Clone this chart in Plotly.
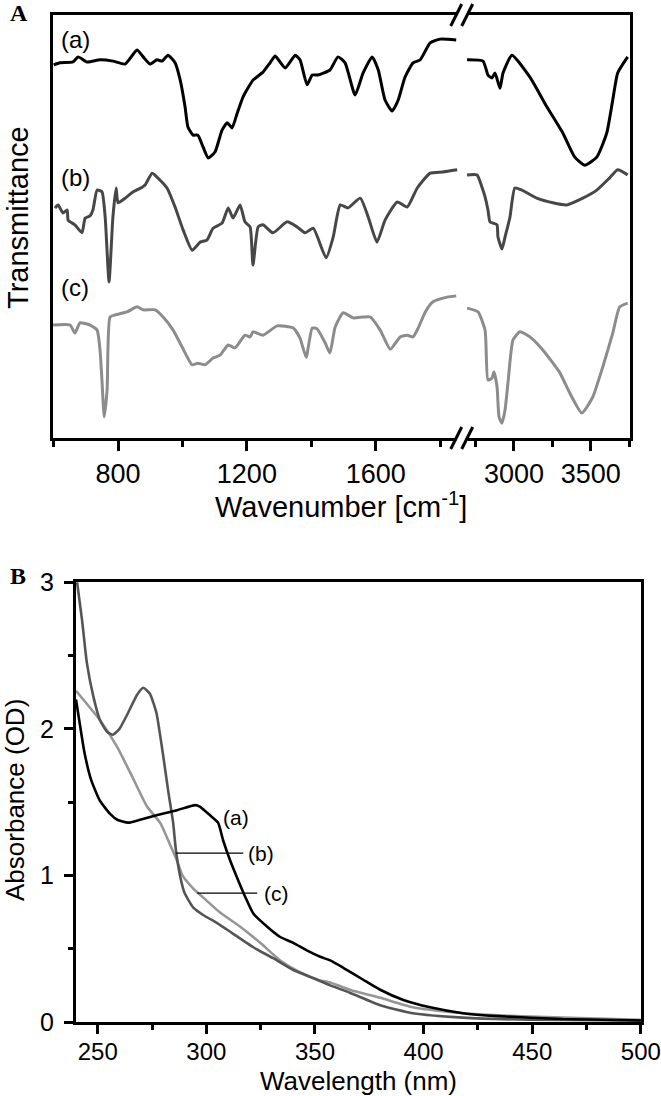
import plotly.graph_objects as go

# ---------------- Panel A : FTIR (wavenumber, transmittance a.u.) ----------------
ir_a_left_wn = [600, 620, 660, 676, 704, 744, 784, 822, 859, 878, 899, 921, 937, 955, 977, 993, 1008, 1017,
                1033, 1048, 1064, 1080, 1101, 1123, 1139, 1154, 1170, 1188, 1219, 1250, 1272, 1288, 1319,
                1350, 1365, 1387, 1403, 1421, 1458, 1483, 1505, 1536, 1561, 1589, 1608, 1629, 1651, 1670,
                1691, 1716, 1738, 1769, 1800, 1850]
ir_a_left_t = [88.2, 88.7, 88.9, 90.1, 88.9, 89.4, 89.1, 88.4, 91.7, 90.1, 88.4, 89.4, 89.1, 90.5, 88.7, 84.6,
               78.3, 73.5, 71.6, 71.6, 68.8, 66.2, 67.6, 72.8, 74.5, 73.3, 76.8, 80.6, 84.6, 86.5, 88.7,
               90.3, 87.5, 90.5, 89.4, 83.5, 85.8, 85.8, 87.0, 90.1, 88.7, 81.1, 86.3, 90.1, 87.0, 79.9,
               77.3, 79.9, 85.3, 88.7, 89.4, 93.4, 94.3, 94.1]
ir_a_right_wn = [2695, 2799, 2831, 2857, 2877, 2909, 2929, 2987, 3104, 3214, 3318, 3396, 3461, 3539, 3604,
                 3643, 3675, 3740]
ir_a_right_t = [89.4, 89.1, 85.8, 85.1, 86.3, 82.7, 86.3, 90.5, 85.3, 78.3, 72.1, 66.4, 64.5, 66.4, 72.1,
                79.9, 86.3, 90.1]

ir_b_left_wn = [604, 614, 629, 642, 645, 666, 688, 698, 713, 722, 735, 750, 760, 772, 784, 794, 800, 822,
                847, 875, 884, 906, 930, 952, 977, 1002, 1030, 1055, 1076, 1095, 1123, 1142, 1157, 1179,
                1194, 1210, 1219, 1235, 1250, 1281, 1325, 1356, 1381, 1406, 1446, 1468, 1490, 1514, 1552,
                1577, 1604, 1629, 1667, 1698, 1729, 1769, 1809, 1853]
ir_b_left_t = [54.4, 55.1, 53.2, 53.9, 51.5, 50.4, 48.5, 52.0, 52.5, 53.9, 58.6, 58.2, 52.2, 36.9, 52.2,
               59.1, 55.6, 56.7, 58.2, 59.3, 59.8, 62.6, 61.0, 59.1, 54.6, 49.2, 44.4, 46.3, 46.8, 49.6,
               50.8, 54.4, 52.0, 55.1, 51.1, 49.9, 40.9, 49.9, 50.4, 48.5, 51.1, 49.9, 48.5, 49.6, 42.6,
               47.5, 55.1, 54.4, 56.7, 52.2, 46.3, 51.5, 55.8, 54.6, 59.1, 62.6, 62.9, 63.4]
ir_b_right_wn = [2695, 2760, 2792, 2812, 2831, 2844, 2864, 2890, 2896, 2922, 2942, 2974, 3006, 3052, 3149,
                 3253, 3344, 3448, 3539, 3623, 3675, 3740]
ir_b_right_t = [62.2, 62.2, 59.3, 57.0, 53.9, 51.1, 50.8, 50.4, 47.5, 44.7, 47.5, 52.2, 59.1, 58.6, 56.7,
                55.6, 55.1, 56.7, 58.6, 61.5, 63.4, 62.2]

ir_c_left_wn = [598, 651, 666, 682, 713, 735, 744, 750, 757, 766, 775, 791, 828, 859, 878, 915, 940, 971,
                999, 1030, 1048, 1070, 1095, 1117, 1142, 1163, 1194, 1210, 1219, 1250, 1294, 1344, 1365,
                1384, 1403, 1418, 1443, 1458, 1474, 1499, 1530, 1561, 1583, 1614, 1645, 1676, 1698, 1716,
                1732, 1754, 1778, 1822, 1850]
ir_c_left_t = [26.7, 26.7, 24.8, 27.2, 26.7, 25.5, 20.8, 13.7, 5.0, 11.3, 28.6, 29.1, 29.8, 31.0, 30.3,
               30.3, 28.6, 25.5, 21.5, 17.3, 17.7, 17.3, 18.9, 19.6, 22.0, 21.3, 24.3, 23.9, 25.1, 24.3,
               26.5, 26.0, 23.6, 19.1, 26.0, 25.8, 22.5, 20.1, 26.2, 29.6, 28.4, 28.6, 28.6, 25.5, 21.0,
               23.9, 24.3, 23.9, 26.0, 29.8, 32.2, 33.3, 33.6]
ir_c_right_wn = [2695, 2766, 2812, 2831, 2857, 2870, 2890, 2903, 2922, 2942, 2961, 2994, 3039, 3104, 3188,
                 3299, 3364, 3442, 3513, 3578, 3643, 3688, 3740]
ir_c_right_t = [30.7, 29.8, 25.5, 13.7, 14.2, 15.6, 12.1, 5.0, 3.5, 6.6, 13.0, 23.2, 25.1, 23.9, 20.8,
                15.4, 10.6, 5.9, 9.7, 16.8, 24.8, 31.0, 31.9]

ir_left_ticks = [800, 1200, 1600]
ir_left_minor = [600, 1000, 1400, 1800]
ir_right_ticks = [3000, 3500]
ir_right_minor = [2750, 3250, 3750]

# ---------------- Panel B : UV-vis (wavelength nm, absorbance OD) ----------------
uv_a_wl = [240, 242, 244, 247, 251, 255.7, 259, 264, 269.5, 277, 286.5, 294.8, 297, 301.7, 305.4, 307.7,
           311, 314, 318, 321.6, 328, 334, 340, 346, 352.4, 357, 363, 372, 380, 390.7, 403, 418, 434,
           464, 500]
uv_a_abs = [2.20, 2.01, 1.83, 1.65, 1.51, 1.42, 1.38, 1.36, 1.38, 1.41, 1.445, 1.48, 1.47, 1.41, 1.36,
            1.24, 1.10, 0.99, 0.85, 0.74, 0.65, 0.58, 0.54, 0.49, 0.445, 0.42, 0.37, 0.29, 0.22, 0.15,
            0.10, 0.06, 0.04, 0.02, 0.01]
uv_b_wl = [240.5, 242.8, 245, 248, 251, 254.3, 257, 260, 264, 268, 271, 274, 277, 280, 282.4, 284.7,
           286, 288, 290, 294, 298.5, 305, 312, 321.6, 330.8, 340, 349, 357, 366, 380, 395, 418, 449, 500]
uv_b_abs = [3.0, 2.74, 2.45, 2.22, 2.06, 1.98, 1.96, 2.00, 2.11, 2.23, 2.28, 2.24, 2.11, 1.83, 1.58,
            1.36, 1.17, 0.99, 0.88, 0.78, 0.73, 0.675, 0.605, 0.51, 0.435, 0.355, 0.30, 0.25, 0.20, 0.115,
            0.06, 0.03, 0.015, 0.01]
uv_c_wl = [240, 251, 259, 266, 272.7, 278.7, 283, 286.5, 289, 294, 300, 306, 315.6, 324.8, 334, 343, 352,
           357, 366, 380, 395, 411, 434, 464, 500]
uv_c_abs = [2.26, 2.06, 1.875, 1.67, 1.47, 1.36, 1.22, 1.10, 1.00, 0.91, 0.83, 0.75, 0.65, 0.54, 0.42,
            0.34, 0.285, 0.27, 0.22, 0.165, 0.10, 0.07, 0.045, 0.03, 0.015]

uv_x_ticks = [250, 300, 350, 400, 450, 500]
uv_x_minor = [275, 325, 375, 425, 475]
uv_y_ticks = [0, 1, 2, 3]
uv_y_minor = [0.5, 1.5, 2.5]

# label leader lines (panel B), in data units
lead_b = dict(x0=286, x1=317, y=1.152)
lead_c = dict(x0=295.8, x1=323.4, y=0.879)

# ---------------- figure ----------------
W, H = 661, 1096
FONT = "Liberation Sans, Arial, Helvetica, sans-serif"
SERIF = "Liberation Serif, Times New Roman, serif"


def px(x):
    return x / W


def py(y):
    return 1 - y / H


fig = go.Figure()

col_a, col_b, col_c = "#000000", "#474747", "#8c8c8c"
lw = 3


def add(x, y, color, xa, ya, width):
    fig.add_trace(go.Scatter(x=x, y=y, mode="lines", xaxis=xa, yaxis=ya,
                             line=dict(color=color, width=width, shape="spline", smoothing=0.5),
                             showlegend=False, hoverinfo="skip"))


add(ir_a_left_wn, ir_a_left_t, col_a, "x", "y", lw)
add(ir_b_left_wn, ir_b_left_t, col_b, "x", "y", lw)
add(ir_c_left_wn, ir_c_left_t, col_c, "x", "y", lw)
add(ir_a_right_wn, ir_a_right_t, col_a, "x2", "y2", lw)
add(ir_b_right_wn, ir_b_right_t, col_b, "x2", "y2", lw)
add(ir_c_right_wn, ir_c_right_t, col_c, "x2", "y2", lw)

add(uv_c_wl, uv_c_abs, "#969696", "x3", "y3", 2.6)
add(uv_b_wl, uv_b_abs, "#555555", "x3", "y3", 2.6)
add(uv_a_wl, uv_a_abs, "#000000", "x3", "y3", 2.6)


def axis(size, **kw):
    d = dict(showgrid=False, zeroline=False, showline=True, linecolor="black", linewidth=3,
             tickcolor="black", automargin=False, ticklabeloverflow="allow",
             tickfont=dict(family=FONT, size=size, color="black"))
    d.update(kw)
    return d


def minor(vals, ln):
    return dict(tickvals=vals, ticks="outside", ticklen=ln, tickwidth=2.5, tickcolor="black")


x_break = 462
fig.update_layout(
    template="none",
    width=W, height=H, margin=dict(l=0, r=0, t=0, b=0, pad=0), autosize=False,
    paper_bgcolor="white", plot_bgcolor="white", showlegend=False,
    xaxis=axis(27, domain=[px(53), px(x_break)], anchor="y", range=[598, 1868],
               mirror=True, ticks="outside", ticklen=10, tickwidth=2.5,
               tickvals=ir_left_ticks, minor=minor(ir_left_minor, 6)),
    xaxis2=axis(27, domain=[px(x_break), px(629.5)], anchor="y2", range=[2662, 3752],
                mirror=True, ticks="outside", ticklen=10, tickwidth=2.5,
                tickvals=ir_right_ticks, minor=minor(ir_right_minor, 6)),
    yaxis=axis(27, domain=[py(438), py(15)], anchor="x", range=[0, 100],
               ticks="", showticklabels=False, mirror=False),
    yaxis2=axis(27, domain=[py(438), py(15)], anchor="x2", range=[0, 100], side="right",
                ticks="", showticklabels=False, mirror=False),
    xaxis3=axis(24, domain=[px(76), px(641)], anchor="y3", range=[240, 500.05], mirror=True,
                ticks="outside", ticklen=9, tickwidth=2.5, tickvals=uv_x_ticks,
                ticklabelstandoff=-3, minor=minor(uv_x_minor, 5)),
    yaxis3=axis(25, domain=[py(1022), py(582)], anchor="x3", range=[0, 3.002], mirror=True,
                ticks="outside", ticklen=9, tickwidth=2.5, tickvals=uv_y_ticks,
                ticklabelstandoff=5, minor=minor(uv_y_minor, 5)),
)

shapes = []
# axis-break marks "//" on top and bottom of panel A
for yc in (15, 438):
    shapes.append(dict(type="rect", xref="paper", yref="paper", x0=px(456.5), x1=px(467.5),
                       y0=py(yc + 3), y1=py(yc - 3), fillcolor="white", line=dict(width=0),
                       layer="above"))
    for xc in (456.2, 467.2):
        shapes.append(dict(type="line", xref="paper", yref="paper",
                           x0=px(xc - 5.5), y0=py(yc + 11), x1=px(xc + 5.5), y1=py(yc - 11),
                           line=dict(color="black", width=3), layer="above"))
# leader lines panel B
for ld in (lead_b, lead_c):
    shapes.append(dict(type="line", xref="x3", yref="y3", x0=ld["x0"], x1=ld["x1"],
                       y0=ld["y"], y1=ld["y"], line=dict(color="black", width=1.2)))
fig.update_layout(shapes=shapes)


def ann(text, x, y, size, angle=0, family=FONT, bold=False):
    t = f"<b>{text}</b>" if bold else text
    fig.add_annotation(text=t, x=px(x), y=py(y), xref="paper", yref="paper", showarrow=False,
                       xanchor="center", yanchor="middle", textangle=angle,
                       font=dict(family=family, size=size, color="black"))


ann("A", 18.5, 13, 24, family=SERIF, bold=True)
ann("B", 17.5, 576, 24, family=SERIF, bold=True)
ann("Transmittance", 18, 218, 29, angle=-90)
ann("Wavenumber [cm<sup>-1</sup>]", 341, 505, 29)
ann("Absorbance (OD)", 15, 800, 26, angle=-90)
ann("Wavelength (nm)", 358, 1081, 26)
ann("(a)", 75, 39, 24)
ann("(b)", 75, 177, 24)
ann("(c)", 75, 287, 24)
ann("(a)", 236, 817, 21)
ann("(b)", 261, 853, 21)
ann("(c)", 276, 893, 21)

fig.write_html("out.html", config={"responsive": False, "displayModeBar": False},
               post_script="document.body.style.margin='0';document.body.style.overflow='hidden';")
